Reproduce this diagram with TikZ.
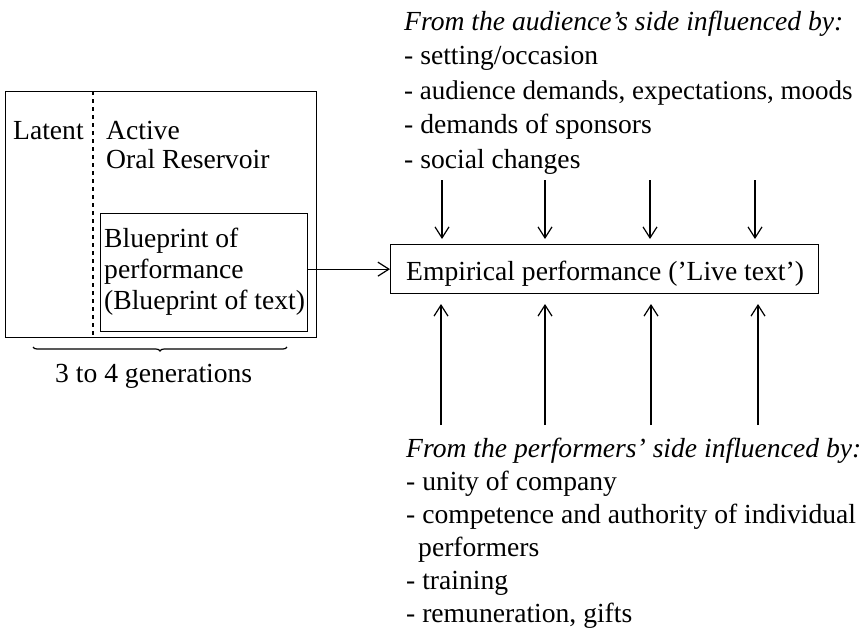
\documentclass[tikz,border=0pt]{standalone}
\usepackage{fontspec}
\setmainfont{Liberation Serif}
\usetikzlibrary{arrows.meta,decorations.pathreplacing}
\begin{document}
\begin{tikzpicture}[x=1pt,y=-1pt,
  txt/.style={anchor=base west,inner sep=0pt,font=\fontsize{27.6}{30}\selectfont},
  boxline/.style={line width=1.3pt},
  flow/.style={line width=1.3pt,-{Straight Barb[length=11pt,width=14pt,line width=1.2pt]}}]
\useasboundingbox (0,0) rectangle (861,635);
% left box
\node[draw,boxline,minimum width=311pt,minimum height=246pt,anchor=north west,inner sep=0pt] (outer) at (5,91) {};
\coordinate (dtop) at (93,91);
\coordinate (dbot) at (93,337);
\draw[line width=1.5pt,dash pattern=on 4pt off 4pt] (dtop) -- (dbot);
\node[txt] (latent) at (13,139) {Latent};
\node[txt] (active) at (106,139) {Active};
\node[txt] (oral) at (106,168) {Oral Reservoir};
\node[draw,boxline,minimum width=207pt,minimum height=118pt,anchor=north west,inner sep=0pt] (inner) at (100,213) {};
\node[txt] (bp1) at (104,247) {Blueprint of};
\node[txt] (bp2) at (104,278) {performance};
\node[txt] (bp3) at (104,309) {(Blueprint of text)};
\coordinate (bl) at (33,347);
\coordinate (br) at (287,347);
\draw[line width=1.2pt,decorate,decoration={brace,mirror,amplitude=4pt}] (bl) -- (br);
\node[txt] (gen) at (55,382) {3 to 4 generations};
% empirical box
\node[draw,boxline,minimum width=428pt,minimum height=49pt,anchor=north west,inner sep=0pt] (emp) at (390,244) {};
\node[txt] (emptxt) at (406,280) {Empirical performance ('Live text')};
\draw[flow] (inner.east |- emp.west) -- (emp.west);
% top text
\node[txt] (a0) at (404,30) {\itshape From the audience's side influenced by:};
\node[txt] (a1) at (404,64.5) {- setting/occasion};
\node[txt,font=\fontsize{27}{30}\selectfont] (a2) at (404,99) {- audience demands, expectations, moods};
\node[txt] (a3) at (404,133.5) {- demands of sponsors};
\node[txt] (a4) at (404,168) {- social changes};
% top arrows
\foreach \i/\x in {1/442,2/545,3/650,4/755}{
  \coordinate (t\i) at (\x,180);
  \draw[flow] (t\i) -- (\x,239);
}
% bottom arrows
\foreach \i/\x in {1/441,2/545,3/651,4/758}{
  \coordinate (b\i) at (\x,425);
  \draw[flow] (b\i) -- (\x,304);
}
% bottom text
\node[txt] (p0) at (406,457) {\itshape From the performers' side influenced by:};
\node[txt] (p1) at (406,490) {- unity of company};
\node[txt] (p2) at (406,523) {- competence and authority of individual};
\node[txt] (p3) at (418,556) {performers};
\node[txt] (p4) at (406,589) {- training};
\node[txt] (p5) at (406,622) {- remuneration, gifts};
\end{tikzpicture}
\end{document}
